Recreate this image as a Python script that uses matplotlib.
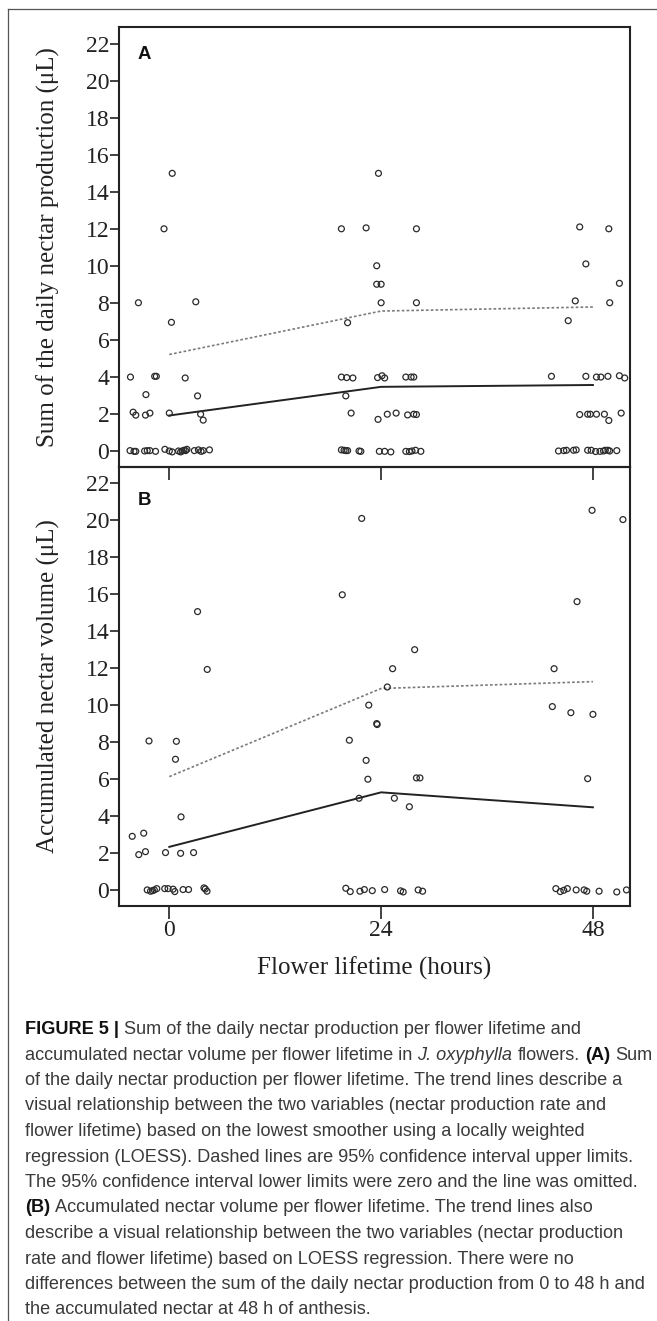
import matplotlib
matplotlib.use("Agg")
import matplotlib.pyplot as plt
from matplotlib.lines import Line2D

# ---- panel A: sum of the daily nectar production (uL) ----
a_hours = [-3.5, 0.33, -0.6, 3.0, 19.5, 22.3, 23.7, 28.0, 23.5, 23.5, 24.0, 24.0, 28.0,
           46.5, 49.8, 47.2, 51.0, 46.0, 49.9, 45.2, 0.24, 20.2,
           # ~4
           -4.4, -1.66, -1.47, 1.8, 19.5, 20.1, 20.8, 23.6, 24.1, 24.4, 26.8, 27.4, 27.7,
           43.3, 47.2, 48.4, 48.9, 49.7, 51.0, 51.6,
           # ~3
           -2.65, 3.2, 20.0,
           # ~2
           -4.1, -3.8, -2.7, -2.2, 0.0, 3.55, 3.84, 20.6, 23.65, 24.7, 25.7, 27.0, 27.7, 28.0,
           46.5, 47.4, 47.7, 48.4, 49.3, 49.8, 51.2,
           # ~0
           -4.45, -4.0, -3.8, -2.8, -2.5, -2.2, -1.56, -0.5, 0.0, 0.33, 1.04, 1.28, 1.47, 1.66,
           1.85, 2.0, 2.84, 3.3, 3.6, 3.84, 4.55, 19.5, 19.8, 20.0, 20.2, 21.5, 21.7,
           23.8, 24.4, 25.1, 26.8, 27.2, 27.5, 27.9, 28.5, 44.1, 44.7, 45.0, 45.8, 46.1,
           47.4, 47.8, 48.3, 48.8, 49.2, 49.4, 49.7, 49.9, 50.7]
a_sum = [8, 15, 12, 8.05, 12, 12.05, 15, 12, 10, 9, 9, 8, 8,
         12.1, 12, 10.1, 9.05, 8.1, 8, 7.03, 6.94, 6.92,
         3.98, 4.02, 4.02, 3.93, 3.98, 3.95, 3.93, 3.95, 4.05, 3.93, 3.98, 3.98, 3.98,
         4.02, 4.02, 3.98, 3.98, 4.02, 4.05, 3.93,
         3.03, 2.96, 2.96,
         2.08, 1.92, 1.92, 2.03, 2.03, 1.97, 1.65, 2.03, 1.69, 1.97, 2.03, 1.93, 1.97, 1.95,
         1.95, 1.97, 1.97, 1.97, 1.97, 1.63, 2.03,
         0, -0.04, -0.04, -0.02, 0, 0, -0.04, 0.07, -0.02, -0.07, -0.02, -0.07, -0.02, 0.02,
         0, 0.07, 0, 0.04, -0.04, 0, 0.04, 0.04, 0.02, 0, 0, -0.02, -0.04,
         -0.04, -0.04, -0.07, -0.04, -0.05, -0.02, 0.02, -0.04, -0.02, 0, 0.02, 0.02, 0.04,
         0.02, 0.02, -0.05, -0.04, -0.02, 0.02, 0.02, -0.02, 0]

# ---- panel B: accumulated nectar volume (uL) ----
b_hours = [21.8, 47.9, 51.4, 19.6, 46.2, 3.2, 27.8, 4.3, 25.3, 43.6, 24.7, 22.6, 43.4,
           45.5, 48.0, 23.5, 23.55, -2.3, 0.8, 20.4, 0.7, 22.3, 22.5, 28.0, 28.4, 47.4,
           21.5, 25.5, 27.2, 1.33, -4.2, -2.9, -3.46, -2.7, -0.43, 1.28, 2.75,
           # ~0
           -2.5, -2.13, -1.9, -1.7, -1.42, -0.52, -0.14, 0.43, 0.62, 1.56, 2.18,
           3.93, 4.08, 4.27, 20.0, 20.5, 21.6, 22.1, 23.0, 24.4, 26.2, 26.5, 28.2, 28.7,
           43.8, 44.3, 44.7, 45.1, 46.1, 47.0, 47.3, 48.7, 50.7, 51.8]
b_volume = [20.1, 20.54, 20.04, 15.97, 15.6, 15.06, 13.0, 11.93, 11.97, 11.97, 10.98, 10.0, 9.92,
            9.59, 9.5, 9.0, 8.95, 8.06, 8.04, 8.1, 7.07, 7.01, 5.99, 6.06, 6.06, 6.02,
            4.96, 4.96, 4.5, 3.95, 2.9, 3.07, 1.91, 2.07, 2.02, 1.98, 2.02,
            0, -0.07, -0.04, 0, 0.07, 0.07, 0.07, 0.04, -0.09, 0.02, 0.02,
            0.11, 0.05, -0.07, 0.09, -0.09, -0.07, 0.02, -0.04, 0.02, -0.05, -0.11, 0, -0.07,
            0.07, -0.09, -0.02, 0.07, 0, 0, -0.07, -0.07, -0.11, 0]

# LOESS trend and 95% CI upper limit
trend_hours = [0, 24, 48]
a_loess = [1.9, 3.45, 3.55]
a_upper = [5.2, 7.55, 7.77]
b_loess = [2.33, 5.28, 4.47]
b_upper = [6.13, 10.9, 11.27]

ylabels = ["Sum of the daily nectar production (\u03bcL)", "Accumulated nectar volume (\u03bcL)"]
xlabel = "Flower lifetime (hours)"

caption = [
    [("FIGURE 5 |", "b"), ("Sum of the daily nectar production per flower lifetime and", "")],
    [("accumulated nectar volume per flower lifetime in", ""), ("J. oxyphylla", "i"),
     ("flowers.", ""), ("(A)", "b"), ("Sum", "")],
    [("of the daily nectar production per flower lifetime. The trend lines describe a", "")],
    [("visual relationship between the two variables (nectar production rate and", "")],
    [("flower lifetime) based on the lowest smoother using a locally weighted", "")],
    [("regression (LOESS). Dashed lines are 95% confidence interval upper limits.", "")],
    [("The 95% confidence interval lower limits were zero and the line was omitted.", "")],
    [("(B)", "b"), ("Accumulated nectar volume per flower lifetime. The trend lines also", "")],
    [("describe a visual relationship between the two variables (nectar production", "")],
    [("rate and flower lifetime) based on LOESS regression. There were no", "")],
    [("differences between the sum of the daily nectar production from 0 to 48 h and", "")],
    [("the accumulated nectar at 48 h of anthesis.", "")],
]

W, H = 657, 1321
fig = plt.figure(figsize=(W / 100, H / 100), dpi=100)
serif = "Liberation Serif"
sans = "Liberation Sans"

axA = fig.add_axes([119 / W, 1 - 466.7 / H, 511 / W, 439.4 / H])
axB = fig.add_axes([119 / W, 1 - 906 / H, 511 / W, 439.3 / H])
axB.patch.set_alpha(0)

panels = [(axA, a_hours, a_sum, a_loess, a_upper, "A", 0.928),
          (axB, b_hours, b_volume, b_loess, b_upper, "B", 0.913)]
for i, (ax, xs, ys, loess, upper, letter, ly) in enumerate(panels):
    ax.scatter(xs, ys, s=18, facecolors="none", edgecolors="#2a2a2a", linewidths=0.9, zorder=3)
    ax.plot(trend_hours, loess, color="#222222", lw=1.4, zorder=2)
    ax.plot(trend_hours, upper, color="#7a7a7a", lw=1.2, ls=(0, (1.6, 1.3)), zorder=2)
    ax.set_xlim(-5.7, 52.2)
    ax.set_ylim(-0.87, 22.9)
    ax.set_yticks(range(0, 23, 2))
    ax.set_xticks([0, 24, 48])
    ax.tick_params(axis="y", direction="out", length=6.5, width=1.2, pad=0.5,
                   labelsize=17, colors="#222222")
    ax.tick_params(axis="x", direction="out", length=9.4, width=1.2, pad=1.0,
                   labelsize=17, colors="#222222")
    for lab in ax.get_xticklabels() + ax.get_yticklabels():
        lab.set_family(serif)
    for sp in ax.spines.values():
        sp.set_linewidth(1.5)
        sp.set_color("#222222")
    ax.set_ylabel(ylabels[i], fontsize=18, family=serif, color="#222222", va="center")
    ax.yaxis.set_label_coords(-0.139, 0.5)
    ax.text(0.037, ly, letter, transform=ax.transAxes, fontsize=13.4, fontweight="bold",
            family=sans, color="#111111", va="baseline", ha="left")

axA.tick_params(axis="x", labelbottom=False)
axB.set_xlabel(xlabel, fontsize=18, family=serif, color="#222222", va="center")
axB.xaxis.set_label_coords(0.5, -0.141)

# frame around the figure + caption (top and left only)
fig.add_artist(Line2D([8 / W, 1], [1 - 9 / H, 1 - 9 / H], transform=fig.transFigure,
                      color="#555555", lw=0.9))
fig.add_artist(Line2D([8 / W, 8 / W], [0, 1 - 9 / H], transform=fig.transFigure,
                      color="#555555", lw=0.9))

# caption, size fitted to the line width in the reference
renderer = fig.canvas.get_renderer()
probe = fig.text(0, 0, caption[10][0][0], fontsize=12, family=sans)
cap_size = 12 * 622 / probe.get_window_extent(renderer).width
probe.remove()


def run_text(x, y, s, style):
    kw = dict(fontsize=cap_size, family=sans, va="baseline", ha="left", color="#3a3a3a")
    if style == "b":
        kw.update(fontweight="bold", color="#111111")
    if style == "i":
        kw.update(fontstyle="italic")
    return fig.text(x, y, s, **kw)


sp1 = fig.text(0, 0, "a a", fontsize=cap_size, family=sans)
sp2 = fig.text(0, 0, "aa", fontsize=cap_size, family=sans)
space = sp1.get_window_extent(renderer).width - sp2.get_window_extent(renderer).width
sp1.remove()
sp2.remove()

for k, line in enumerate(caption):
    y = 1 - (1034 + 25.5 * k) / H
    x = 25
    for s, style in line:
        t = run_text(x / W, y, s, style)
        x += t.get_window_extent(renderer).width + space

fig.savefig("out.png", dpi=100)
